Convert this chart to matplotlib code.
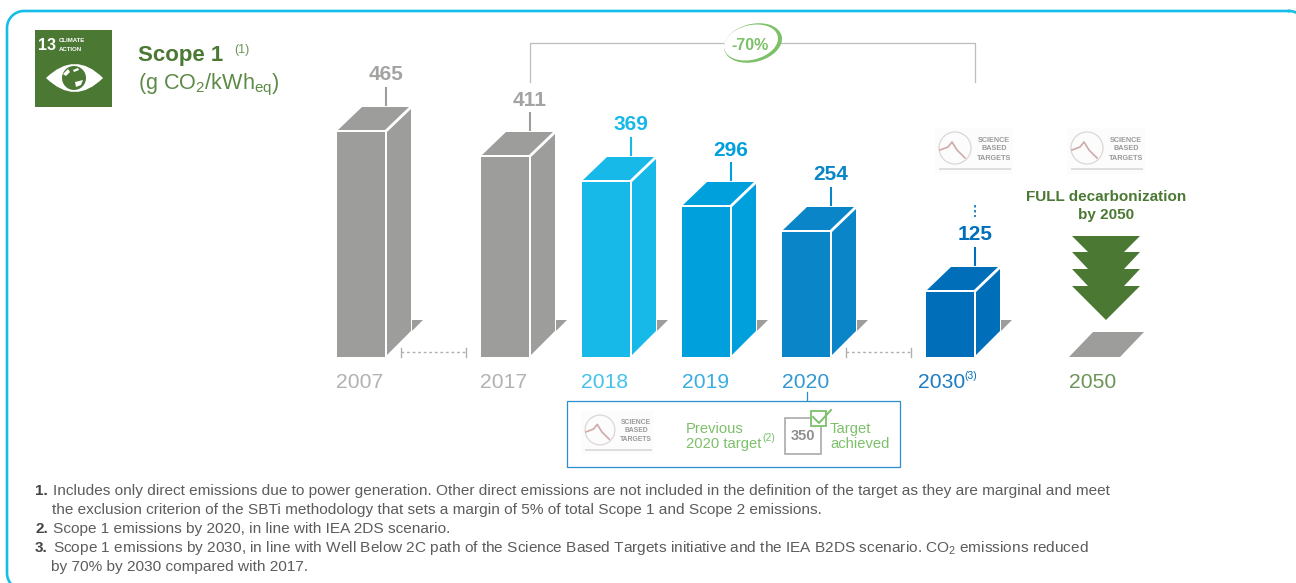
import numpy as np
import matplotlib
matplotlib.use("Agg")
import matplotlib.pyplot as plt
from matplotlib.patches import Polygon, Rectangle, Ellipse, Circle, PathPatch
from matplotlib.path import Path

plt.rcParams['font.family'] = ['Liberation Sans', 'DejaVu Sans']
plt.rcParams['mathtext.fontset'] = 'custom'
plt.rcParams['mathtext.rm'] = 'Liberation Sans'
plt.rcParams['mathtext.default'] = 'regular'

# ---- data ----
years = ['2007', '2017', '2018', '2019', '2020', '2030']
values = [465, 411, 369, 296, 254, 125]
bar_colors = ['#9d9d9c', '#9d9d9c', '#17b9e9', '#00a0dc', '#0a86c8', '#006eb9']
label_colors = ['#a3a3a2', '#a3a3a2', '#17b9e9', '#00a0dc', '#0a86c8', '#006eb9']
year_colors = ['#b2b2b1', '#b2b2b1', '#45c2ec', '#38aee2', '#3399d2', '#1f7cc0']
previous_target = 350

# the source graphic is not drawn to linear scale: axis knots read from it
scale_values = [0, 125, 254, 296, 369, 411, 465, 700]
scale_pixels = [0, 65, 125, 150, 175, 200, 225, 357]

bar_left = [337, 481, 582, 682, 782, 926]
year_x = [360, 504, 605, 706, 806, 942]
BASE, W = 357, 48

GREEN, LGREEN, GREY = '#4b7833', '#7cc06a', '#9d9d9c'
TXT = '#5c5c5c'

fig = plt.figure(figsize=(12.96, 5.83), dpi=100, facecolor='white')
ov = fig.add_axes([0, 0, 1, 1], zorder=1)
ov.set_xlim(0, 1296); ov.set_ylim(583, 0); ov.axis('off')

chart = fig.add_axes([0, (583 - BASE) / 583, 1, BASE / 583], zorder=2)
chart.patch.set_alpha(0)
chart.set_yscale('function', functions=(
    lambda v: np.interp(v, scale_values, scale_pixels),
    lambda p: np.interp(p, scale_pixels, scale_values)))
chart.set_xlim(0, 1296); chart.set_ylim(0, 700); chart.axis('off')


def round_frame(x0, y0, x1, y1, r):
    xs, ys = [], []
    for cx, cy, a0 in [(x1 - r, y0 + r, -90), (x1 - r, y1 - r, 0), (x0 + r, y1 - r, 90), (x0 + r, y0 + r, 180)]:
        a = np.radians(np.linspace(a0, a0 + 90, 24))
        xs.extend(cx + r * np.cos(a)); ys.extend(cy + r * np.sin(a))
    return xs + xs[:1], ys + ys[:1]


# frame
fx, fy = round_frame(7, 11, 1306, 590, 17)
ov.plot(fx, fy, color='#17bde9', lw=1.9)

# bars
chart.bar([l + W / 2 for l in bar_left], values, width=W, color=bar_colors, lw=0)
for l, v, c, tc in zip(bar_left, values, bar_colors, label_colors):
    T = 583 - chart.transData.transform((0, v))[1]
    ov.add_patch(Polygon([(l + 1, T - 2), (l + 25, T - 25), (l + 72, T - 25), (l + 48, T - 2)], fc=c, lw=0))
    ov.add_patch(Polygon([(l + 50, T), (l + 74, T - 23), (l + 74, BASE - 26), (l + 50, BASE - 2)], fc=c, lw=0))
    ov.add_patch(Polygon([(l + 75, 320), (l + 86, 320), (l + 75, 331)], fc=GREY, lw=0))
    ov.plot([l + 49, l + 49], [T - 45, T - 26], color=c, lw=1.5, solid_capstyle='butt')
    ov.text(l + 49, T - 57, str(v), color=tc, fontsize=15, fontweight='bold', ha='center', va='center')

for x, y, c in zip(year_x, years, year_colors):
    ov.text(x, 383, y, color=c, fontsize=15.2, ha='center', va='center')
ov.text(964, 376, '(3)', color=bar_colors[-1], fontsize=7.5, ha='left', va='center')
ov.text(1093, 383, '2050', color='#6b9456', fontsize=15.2, ha='center', va='center')

# dotted connectors
for a, b in [(401, 466), (846, 911)]:
    ov.plot([a, b], [352, 352], color='#b0b0b0', lw=1, ls=(0, (2, 2)))
    for x in (a, b):
        ov.plot([x, x], [348, 357], color='#b0b0b0', lw=1)
ov.plot([975, 975], [205, 217], color='#0a6fb8', lw=1.2, ls=(0, (1.5, 1.5)))

# bracket with -70% stamp
ov.plot([530, 530, 975, 975], [82, 43, 43, 82], color='#bdbdbd', lw=0.9)
ov.add_patch(Ellipse((753, 43), 59, 38, angle=-14, fc=LGREEN, lw=0, zorder=3))
ov.add_patch(Ellipse((751, 42.5), 55, 34.5, angle=-14, fc='white', lw=0, zorder=3))
ov.text(750, 45, '-70%', color=LGREEN, fontsize=11.5, fontweight='bold', ha='center', va='center', zorder=4)

# 2050 arrow and plate
ov.add_patch(Polygon([(1072, 236), (1140, 236), (1124, 252), (1140, 252), (1124, 269), (1140, 269),
                      (1124, 286), (1140, 286), (1106, 320), (1072, 286), (1088, 286), (1072, 269),
                      (1088, 269), (1072, 252), (1088, 252)], fc=GREEN, lw=0))
ov.add_patch(Polygon([(1069, 357), (1093, 332), (1144, 332), (1120, 357)], fc=GREY, lw=0))
ov.text(1106, 197, 'FULL decarbonization', color=GREEN, fontsize=11, fontweight='bold', ha='center', va='center')
ov.text(1106, 215, 'by 2050', color=GREEN, fontsize=11, fontweight='bold', ha='center', va='center')


def sbt_logo(cx, cy, k=1.0):
    ov.add_patch(Rectangle((cx - 20 * k, cy - 20 * k), 78 * k, 46 * k, fc='#fcfcfc', lw=0))
    ov.add_patch(Circle((cx, cy), 16 * k, fc='none', ec='#ddd6d6', lw=0.9))
    ov.plot([cx - 15 * k, cx - 7 * k, cx - 3 * k, cx + 2 * k, cx + 10 * k],
            [cy + 2 * k, cy - 1 * k, cy - 6 * k, cy + 2 * k, cy + 10 * k], color='#d0a9a9', lw=1.2)
    for i, word in enumerate(['SCIENCE', 'BASED', 'TARGETS']):
        ov.text(cx + 39 * k, cy + (-8 + 9 * i) * k, word, color='#999999', fontsize=5.2 * k,
                fontweight='bold', ha='center', va='center')
    ov.plot([cx - 15 * k, cx + 55 * k], [cy + 21 * k, cy + 21 * k], color='#dedede', lw=1.4)


sbt_logo(955, 148)
sbt_logo(1087, 148)
sbt_logo(600, 430, 0.93)

# previous target box
ov.add_patch(Rectangle((567, 400.5), 333, 66.5, fc='none', ec='#2a8fcc', lw=0.9))
ov.plot([807, 807], [392, 400], color='#2a8fcc', lw=0.9)
ov.text(686, 429, 'Previous', color=LGREEN, fontsize=10.6, ha='left', va='center')
ov.text(686, 444, '2020 target', color=LGREEN, fontsize=10.6, ha='left', va='center')
ov.text(762, 438, '(2)', color=LGREEN, fontsize=7.5, ha='left', va='center')
ov.add_patch(Rectangle((784.5, 418), 36, 36, fc='white', ec='#a3a3a3', lw=1.1))
ov.text(803, 436, str(previous_target), color='#8f8f8f', fontsize=10.5, fontweight='bold', ha='center', va='center')
ov.add_patch(Rectangle((811, 411), 15, 15, fc='white', ec=LGREEN, lw=1.3))
ov.plot([813, 819, 831], [417, 423, 410], color=LGREEN, lw=1.4)
ov.text(830, 429, 'Target', color=LGREEN, fontsize=10.6, ha='left', va='center')
ov.text(830, 444, 'achieved', color=LGREEN, fontsize=10.6, ha='left', va='center')

# SDG icon
ov.add_patch(Rectangle((35, 30), 77, 77, fc=GREEN, lw=0))
ov.text(47, 45.5, '13', color='white', fontsize=11.5, fontweight='bold', ha='center', va='center')
ov.text(59, 40.5, 'CLIMATE', color='white', fontsize=4.4, fontweight='bold', ha='left', va='center')
ov.text(59, 49.5, 'ACTION', color='white', fontsize=4.4, fontweight='bold', ha='left', va='center')
eye = Path([(46, 78), (75, 50), (103, 78), (75, 106), (46, 78)],
           [Path.MOVETO, Path.CURVE3, Path.CURVE3, Path.CURVE3, Path.CURVE3])
ov.add_patch(PathPatch(eye, fc='white', lw=0))
ov.add_patch(Circle((74, 78), 12, fc=GREEN, lw=0))
ov.add_patch(Polygon([(63, 74), (68, 69), (70, 72), (66, 76)], fc='white', lw=0))
ov.add_patch(Polygon([(75, 82), (83, 80), (81, 85), (76, 87)], fc='white', lw=0))
ov.add_patch(Polygon([(73, 70), (78, 68), (79, 70), (74, 72)], fc='white', lw=0))

# title
ov.text(138, 55.5, 'Scope 1', color=GREEN, fontsize=16, fontweight='bold', ha='left', va='center')
ov.text(234, 50, '(1)', color='#6b9456', fontsize=9, ha='left', va='center')
ov.text(138, 85, r'(g CO$_2$/kWh$_{eq}$)', color='#5d8a47', fontsize=15.6, ha='left', va='center')

# footnotes
notes = [
    (35, 491, '1.', 53, 'Includes only direct emissions due to power generation. Other direct emissions are not included in the definition of the target as they are marginal and meet'),
    (None, 510, '', 52, 'the exclusion criterion of the SBTi methodology that sets a margin of 5% of total Scope 1 and Scope 2 emissions.'),
    (35, 529, '2.', 53, 'Scope 1 emissions by 2020, in line with IEA 2DS scenario.'),
    (35, 548, '3.', 53, 'Scope 1 emissions by 2030, in line with Well Below 2C path of the Science Based Targets initiative and the IEA B2DS scenario. CO$_2$ emissions reduced'),
    (None, 567, '', 51, 'by 70% by 2030 compared with 2017.'),
]
for bx, y, b, x, t in notes:
    if bx is not None:
        ov.text(bx, y, b, color='#444444', fontsize=11, fontweight='bold', ha='left', va='center')
    ov.text(x, y, t, color=TXT, fontsize=11.05, ha='left', va='center')

fig.savefig('out.png', dpi=100, facecolor='white')
